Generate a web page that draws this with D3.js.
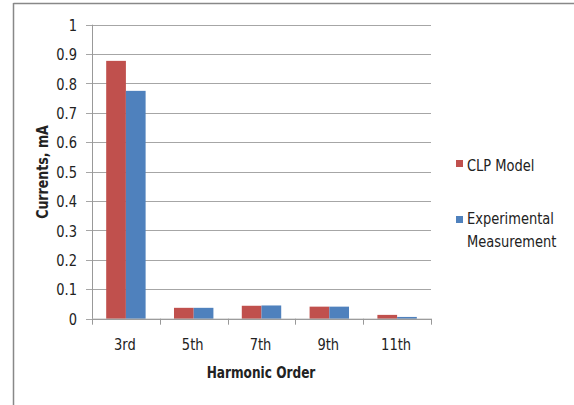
<!DOCTYPE html>
<html><head><meta charset="utf-8">
<script src="https://cdn.jsdelivr.net/npm/d3@7"></script>
<style>
body{margin:0;background:#fff;}
text{font-family:"DejaVu Sans Condensed","DejaVu Sans",sans-serif;fill:#222;}
</style></head>
<body>
<svg id="c" width="574" height="405"></svg>
<script>
const categories = ["3rd","5th","7th","9th","11th"];
const seriesNames = ["CLP Model","Experimental Measurement"];
const clpModel = [0.877, 0.037, 0.044, 0.041, 0.013];
const experimental = [0.775, 0.037, 0.045, 0.041, 0.006];
const yTicks = [0,0.1,0.2,0.3,0.4,0.5,0.6,0.7,0.8,0.9,1];
const colors = ["#C0504D","#4F81BD"];

(function(){
const svg = d3.select("#c");
const SY = 1.15;
function label(g, x, y, txt, size, anchor, extra){
  const t = g.append("text").attr("transform",`translate(${x},${y}) ${extra||""} scale(1,${SY})`)
    .attr("text-anchor",anchor||"start").attr("font-size",size).text(txt);
  return t;
}
// outer frame
svg.append("line").attr("x1",13.5).attr("x2",574).attr("y1",3.5).attr("y2",3.5).attr("stroke","#888").attr("stroke-width",1.5);
svg.append("line").attr("x1",13.5).attr("x2",13.5).attr("y1",3).attr("y2",405).attr("stroke","#888").attr("stroke-width",1.5);

const pl=92, pr=431, pt=24.7, pb=318.7;
const x = d3.scaleBand().domain(categories).range([pl,pr]).paddingInner(0).paddingOuter(0);
const y = d3.scaleLinear().domain([0,1]).range([pb,pt]);
const x1 = d3.scaleBand().domain(seriesNames).range([0,x.bandwidth()]).paddingOuter(0.72).paddingInner(0);

// gridlines
svg.append("g").selectAll("line").data(yTicks).join("line")
  .attr("x1",pl-6).attr("x2",pr).attr("y1",d=>Math.round(y(d))+0.5).attr("y2",d=>Math.round(y(d))+0.5)
  .attr("stroke","#a6a6a6").attr("stroke-width",1);
// y axis line
svg.append("line").attr("x1",pl+0.5).attr("x2",pl+0.5).attr("y1",pt).attr("y2",pb).attr("stroke","#999");
// y labels
const yg = svg.append("g");
yTicks.forEach(d=>label(yg,77,y(d)+6,d3.format("")(d),14.5,"end").attr("fill","#333"));

const series=[clpModel,experimental];
series.forEach((vals,si)=>{
  svg.append("g").selectAll("rect").data(categories).join("rect")
    .attr("x",(c)=>x(c)+x1(seriesNames[si]))
    .attr("width",x1.bandwidth())
    .attr("y",(c,i)=>y(vals[i]))
    .attr("height",(c,i)=>pb-y(vals[i]))
    .attr("fill",colors[si]);
});

// x axis
svg.append("line").attr("x1",pl).attr("x2",pr).attr("y1",pb+0.5).attr("y2",pb+0.5).attr("stroke","#999");
const bounds = categories.map(c=>x(c)).concat([pr]);
svg.append("g").selectAll("line").data(bounds).join("line")
  .attr("x1",d=>Math.round(d)+0.5).attr("x2",d=>Math.round(d)+0.5).attr("y1",pb).attr("y2",pb+6).attr("stroke","#999");
const xg = svg.append("g");
categories.forEach(c=>label(xg,x(c)+x.bandwidth()/2-1,350,c,14.5,"middle"));

label(svg,261,378,"Harmonic Order",13.5,"middle").attr("font-weight","bold");
svg.append("text").attr("transform",`translate(48,172) rotate(-90) scale(1,${SY})`).attr("text-anchor","middle").attr("font-size",14).attr("font-weight","bold").text("Currents, mA");

// legend
const lg = svg.append("g");
lg.append("rect").attr("x",456).attr("y",160).attr("width",7).attr("height",7).attr("fill",colors[0]);
label(lg,467,171,"CLP Model",14.5);
lg.append("rect").attr("x",456).attr("y",216).attr("width",7).attr("height",7).attr("fill",colors[1]);
label(lg,467,224,"Experimental",14.5);
label(lg,467,247,"Measurement",14.5);
})();
</script>
</body></html>
